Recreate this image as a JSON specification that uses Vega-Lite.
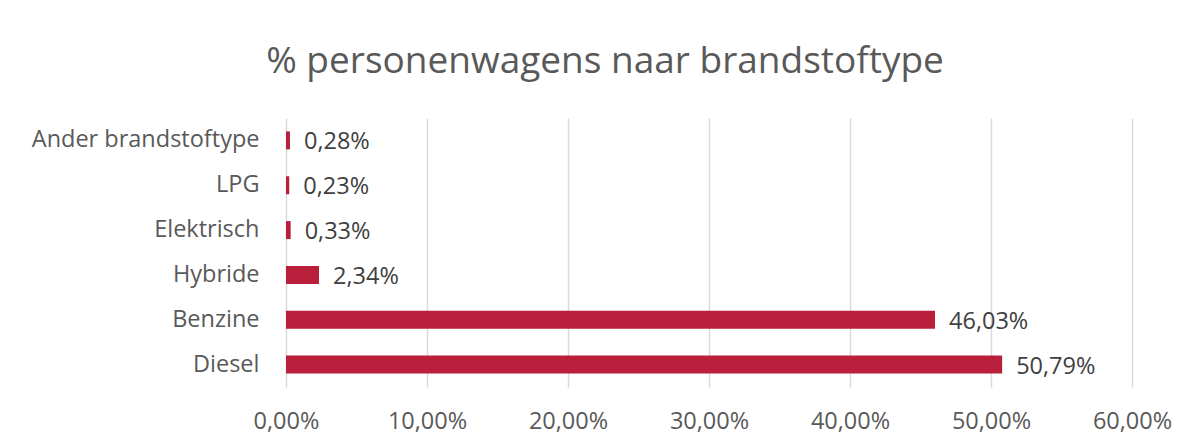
{
  "$schema": "https://vega.github.io/schema/vega-lite/v6.json",
  "width": 846,
  "height": 269,
  "autosize": {"type": "none"},
  "padding": {"left": 286, "top": 118, "right": 61, "bottom": 61},
  "background": "white",
  "config": {
    "font": "Open Sans",
    "view": {"stroke": null},
    "locale": {"number": {"decimal": ",", "thousands": ".", "grouping": [3], "currency": ["€", ""]}}
  },
  "title": {
    "text": "% personenwagens naar brandstoftype",
    "fontSize": 37,
    "fontWeight": "normal",
    "color": "#595959",
    "anchor": "middle",
    "dx": -104,
    "offset": 37,
    "font": "Open Sans"
  },
  "data": {
    "values": [
      {"type": "Ander brandstoftype", "pct": 0.0028},
      {"type": "LPG", "pct": 0.0023},
      {"type": "Elektrisch", "pct": 0.0033},
      {"type": "Hybride", "pct": 0.0234},
      {"type": "Benzine", "pct": 0.4603},
      {"type": "Diesel", "pct": 0.5079}
    ]
  },
  "encoding": {
    "y": {
      "field": "type",
      "type": "nominal",
      "sort": null,
      "scale": {"paddingInner": 0.6, "paddingOuter": 0.3},
      "axis": {
        "title": null,
        "ticks": false,
        "domain": false,
        "labelFontSize": 23.5,
        "labelColor": "#595959",
        "labelPadding": 27,
        "labelLimit": 400
      }
    },
    "x": {
      "field": "pct",
      "type": "quantitative",
      "scale": {"domain": [0, 0.6], "nice": false},
      "axis": {
        "title": null,
        "format": ".2%",
        "values": [0, 0.1, 0.2, 0.3, 0.4, 0.5, 0.6],
        "ticks": false,
        "domain": false,
        "grid": true,
        "gridColor": "#d9d9d9",
        "gridWidth": 1.5,
        "labelFlush": false,
        "labelFontSize": 23.5,
        "labelColor": "#595959",
        "labelPadding": 22
      }
    }
  },
  "layer": [
    {"mark": {"type": "bar", "color": "#B91F3B", "height": 18}},
    {
      "mark": {"type": "text", "align": "left", "baseline": "middle", "dx": 14, "dy": 2, "fontSize": 23.5, "color": "#404040"},
      "encoding": {"text": {"field": "pct", "type": "quantitative", "format": ".2%"}}
    }
  ]
}
